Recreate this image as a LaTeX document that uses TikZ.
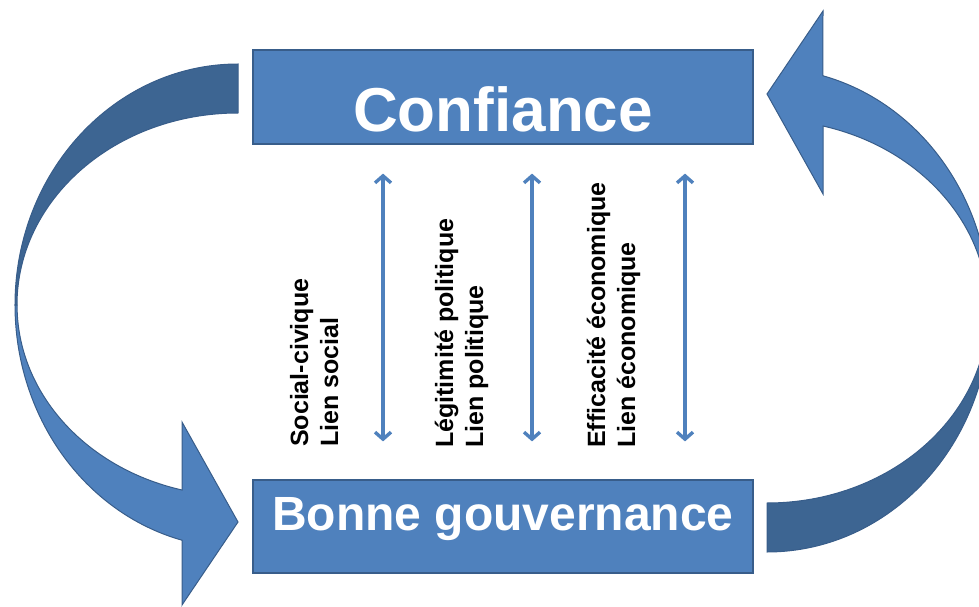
\documentclass[tikz,border=0pt]{standalone}
\usepackage{fontspec}
\setmainfont{Liberation Sans}
\usetikzlibrary{arrows.meta}
\definecolor{boxblue}{HTML}{4F81BD}
\definecolor{backblue}{HTML}{3D6592}
\definecolor{edgeblue}{HTML}{385D8A}

\begin{document}
\begin{tikzpicture}[x=1pt,y=1pt,
    box/.style={draw=edgeblue, line width=1.2pt, fill=boxblue, text=white, minimum width=500pt, inner sep=0pt},
    frontside/.style={draw=edgeblue, line width=1pt, fill=boxblue},
    backside/.style={draw=edgeblue, line width=1pt, fill=backblue},
    link/.style={draw=boxblue, line width=3.4pt, {Straight Barb[length=7pt,width=16pt]}-{Straight Barb[length=7pt,width=16pt]}},
    tag/.style={rotate=90, anchor=base west, inner sep=0pt, font=\fontsize{25}{30}\selectfont\bfseries}]
    \newcommand{\bentArrow}{
        \filldraw[backside] (238,542) arc[start angle=90, end angle=180, x radius=223pt, y radius=241pt]
            -- (17,301) arc[start angle=180, end angle=90, x radius=221pt, y radius=192pt] -- cycle;
        \filldraw[frontside] (15,301) arc[start angle=180, end angle=255.5, x radius=223pt, y radius=243pt]
            -- (182,1) -- (238,84) -- (182,184) -- (182,116)
            arc[start angle=255.3, end angle=180, x radius=221pt, y radius=191pt] -- cycle;
    }
  \clip (0,0) rectangle (979,606);

  \node[box, minimum height=94pt, text height=70pt, text depth=0pt,
        font=\fontsize{62}{70}\selectfont\bfseries] (conf) at (503,509) {Confiance};
  \node[box, minimum height=93pt, text height=35pt, text depth=28pt,
        font=\fontsize{48}{56}\selectfont\bfseries] (gouv) at (503,79.5) {Bonne gouvernance};

  % the two bent arrows
  \bentArrow
  \begin{scope}[rotate around={180:(502.5,298)}]
    \bentArrow
  \end{scope}

  \foreach \dx in {-120,29,182}
    \draw[link, shorten <=29pt, shorten >=38pt] ([xshift=\dx pt]conf.south) -- ([xshift=\dx pt]gouv.north);

  \node[tag] (social) at (308,159) {Social-civique};
  \node[tag] (sociallink) at ([xshift=30pt]social.base west) {Lien social};
  \node[tag] (politic) at (453,158) {Légitimité politique};
  \node[tag] (politiclink) at ([xshift=30pt]politic.base west) {Lien politique};
  \node[tag] (econ) at (605,158) {Efficacité économique};
  \node[tag] (econlink) at ([xshift=30pt]econ.base west) {Lien économique};

\end{tikzpicture}
\end{document}
